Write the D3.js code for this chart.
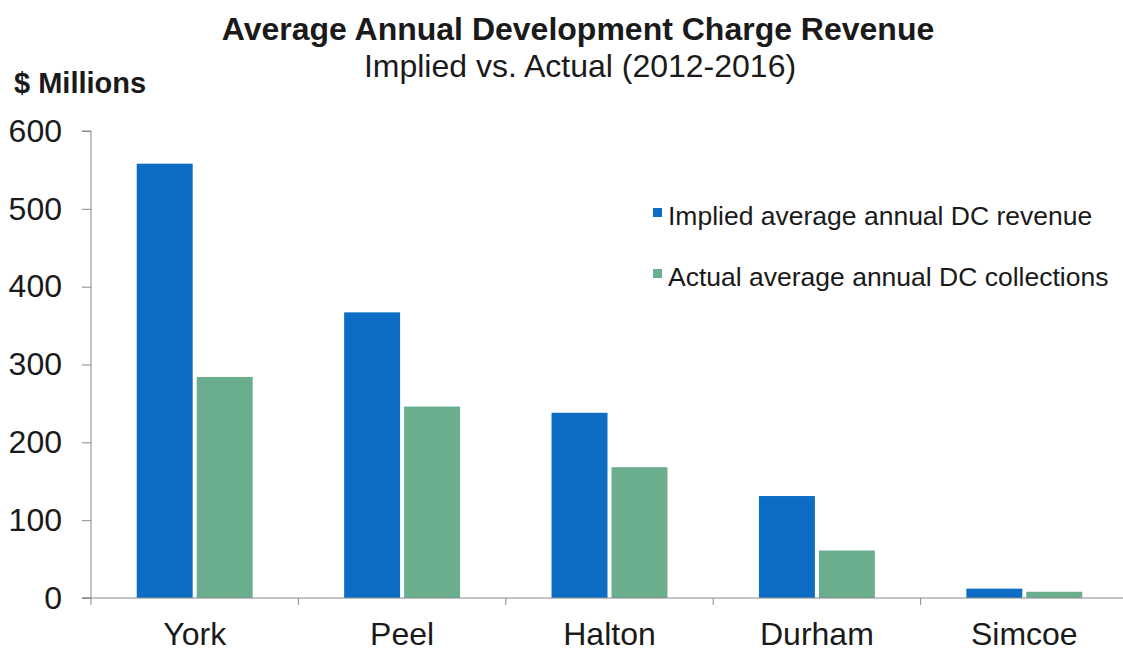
<!DOCTYPE html>
<html><head><meta charset="utf-8">
<script src="https://cdn.jsdelivr.net/npm/d3@7/dist/d3.min.js"></script>
<style>body{margin:0;background:#fff}svg{display:block}text{font-family:"Liberation Sans",Arial,sans-serif;fill:#1a1a1a}</style>
</head><body><svg id="c" width="1123" height="652"></svg>
<script>
const categories = ["York","Peel","Halton","Durham","Simcoe"];
const seriesNames = ["Implied average annual DC revenue","Actual average annual DC collections"];
const implied = [558, 367, 238, 131, 12];
const actual = [284, 246, 168, 61, 8];
const yTicks = [0,100,200,300,400,500,600];
const colors = ["#0d6cc3","#6aae8d"];

const svg = d3.select("#c");
const x0 = d3.scaleBand().domain(categories).range([91,1128]).paddingInner(0.441).paddingOuter(0.2205);
const x1 = d3.scaleBand().domain([0,1]).range([0,x0.bandwidth()]).paddingInner(0.067);
const y = d3.scaleLinear().domain([0,600]).range([598,131]);

// y axis
const ya = svg.append("g").attr("transform","translate(91,0)")
  .call(d3.axisLeft(y).tickValues(yTicks).tickSize(9).tickPadding(20).tickFormat(d3.format("d")));
ya.select(".domain").attr("stroke","#8a8a8a").attr("d","M-9,131H0V598H-9");
ya.selectAll(".tick line").attr("stroke","#8a8a8a");
ya.selectAll(".tick text").attr("font-size",32).attr("fill","#1a1a1a").attr("font-family","Liberation Sans, Arial, sans-serif");

// bars
const data = categories.map((c,i)=>({c, v:[implied[i],actual[i]]}));
const g = svg.append("g");
g.selectAll("g.cat").data(data).join("g").attr("class","cat")
  .attr("transform",d=>`translate(${x0(d.c)},0)`)
  .selectAll("rect").data(d=>d.v.map((v,k)=>({v,k}))).join("rect")
  .attr("x",d=>x1(d.k)).attr("width",x1.bandwidth())
  .attr("y",d=>y(d.v)).attr("height",d=>y(0)-y(d.v))
  .attr("fill",d=>colors[d.k]);

// x axis
const xa = svg.append("g").attr("transform","translate(0,598)");
xa.append("line").attr("x1",82).attr("x2",1123).attr("y1",0).attr("y2",0).attr("stroke","#8a8a8a");
const edges = categories.map(c=>x0(c)-x0.step()*x0.paddingInner()/2);
edges.push(1128);
xa.selectAll("line.t").data(edges).join("line").attr("class","t")
  .attr("x1",d=>d).attr("x2",d=>d).attr("y1",0).attr("y2",7).attr("stroke","#8a8a8a");
xa.selectAll("text").data(categories).join("text")
  .attr("x",d=>x0(d)+x0.bandwidth()/2).attr("y",47).attr("text-anchor","middle")
  .attr("font-size",32).text(d=>d);

// titles
svg.append("text").attr("x",578).attr("y",40).attr("text-anchor","middle")
  .attr("font-size",32).attr("font-weight","bold").text("Average Annual Development Charge Revenue");
svg.append("text").attr("x",580).attr("y",77).attr("text-anchor","middle")
  .attr("font-size",32).text("Implied vs. Actual (2012-2016)");
svg.append("text").attr("x",14).attr("y",93)
  .attr("font-size",29).attr("font-weight","bold").text("$ Millions");

// legend
const lg = svg.append("g").selectAll("g").data(seriesNames).join("g")
  .attr("transform",(d,i)=>`translate(653,${216+i*61})`);
lg.append("rect").attr("x",0).attr("y",-8).attr("width",9).attr("height",9).attr("fill",(d,i)=>colors[i]);
lg.append("text").attr("x",15).attr("y",9).attr("font-size",26.5).text(d=>d);
</script></body></html>
